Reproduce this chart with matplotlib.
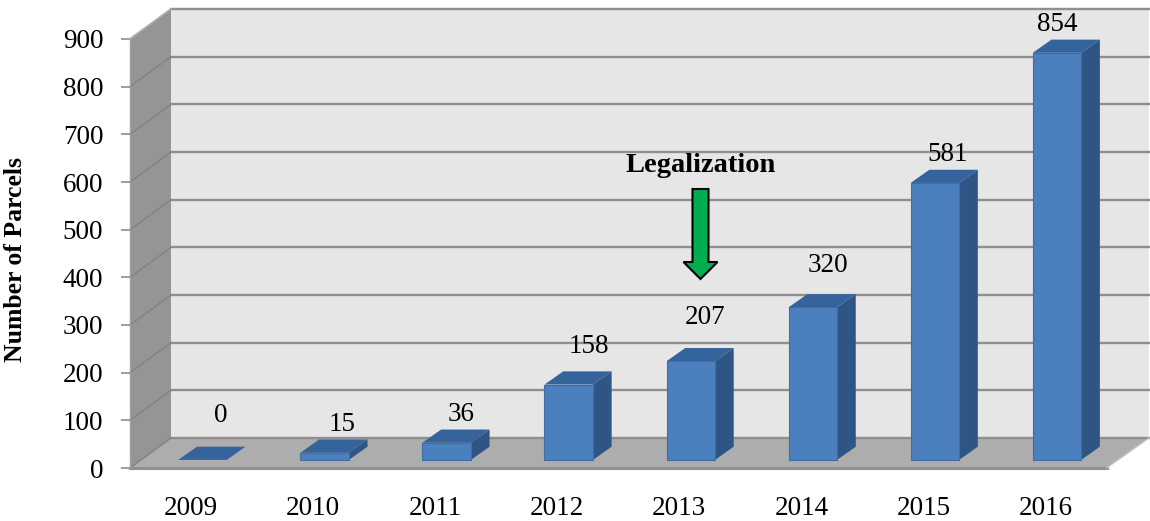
import matplotlib
matplotlib.use('Agg')
import matplotlib.pyplot as plt
from matplotlib.patches import Polygon, FancyArrow

plt.rcParams['font.family'] = ['Liberation Serif', 'DejaVu Serif']

years = ['2009', '2010', '2011', '2012', '2013', '2014', '2015', '2016']
parcels = [0, 15, 36, 158, 207, 320, 581, 854]
y_ticks = [0, 100, 200, 300, 400, 500, 600, 700, 800, 900]

# label offsets from the front top corner centre of each bar (pixels)
label_dx = [18, 18, 14, 20, 14, 15, 13, 0]
label_dy = [44, 28, 28, 38, 44, 42, 28, 28]

# pixel geometry of the fake 3D box
left, right, top, bottom = 130, 1106.5, 39, 468
W, H = 1150, 521
depth_x, depth_y = 42.5, 30
px_x = (right - left) / 8
px_y = (bottom - top) / 900
bar_w = 48.5 / px_x
bar_front, bar_back = 0.27, 0.71


def proj(x, v, d):
    # oblique projection, d=0 front plane, d=1 back wall
    return x + d * depth_x / px_x, v + d * depth_y / px_y


fig = plt.figure(figsize=(W / 100, H / 100), dpi=100)
ax = fig.add_axes([left / W, (H - bottom) / H, (right - left) / W, (bottom - top) / H])
ax.set_xlim(-0.5, 7.5)
ax.set_ylim(0, 900)
ax.patch.set_visible(False)
for s in ax.spines.values():
    s.set_visible(False)


def face(pts, color, z, edge='none', lw=0):
    ax.add_patch(Polygon(pts, closed=True, facecolor=color, edgecolor=edge,
                         linewidth=lw, zorder=z, clip_on=False))


x0, x1 = -0.5, 7.5
back_left = left + 41
back_x0 = x0 + 41 / px_x
# walls and floor
face([(back_x0, proj(x0, 0, 1)[1]), proj(x1, 0, 1), proj(x1, 900, 1), (back_x0, proj(x0, 900, 1)[1])], '#e6e6e6', 1)
face([(x0, 0), (back_x0, proj(x0, 0, 1)[1]), (back_x0, proj(x0, 900, 1)[1]), (x0, 900)], '#959595', 1)
face([proj(x0, 0, 0), proj(x1, 0, 0), proj(x1, 0, 1), (back_x0, proj(x0, 0, 1)[1])], '#adadad', 1)

# gridlines run over the side wall and the back wall
for v in y_ticks:
    v_back = proj(x0, v, 1)[1]
    ax.plot([back_x0, proj(x1, v, 1)[0]], [v_back, v_back],
            color='#8f8f8f', lw=1.7, zorder=2, clip_on=False)
    ax.plot([x0, back_x0], [v, v_back], color='#828282', lw=1,
            zorder=2, clip_on=False)
ax.plot([x0, x1], [0, 0], color='#8f8f8f', lw=2.2, zorder=2, clip_on=False)
ax.plot([x1, proj(x1, 0, 1)[0]], [0, proj(x1, 0, 1)[1]], color='#c4c4c4', lw=1, zorder=2, clip_on=False)
ax.plot([x0, x0], [0, 900], color='#a0a0a0', lw=1, zorder=2, clip_on=False)
ax.plot([x0, back_x0], [900, proj(x0, 900, 1)[1]], color='#b0b0b0', lw=1.2, zorder=2, clip_on=False)

# bars
for i, val in enumerate(parcels):
    a = i - bar_w / 2
    b = i + bar_w / 2
    z = 3 + i * 0.01
    face([proj(a, val, bar_front), proj(b, val, bar_front),
          proj(b, val, bar_back), proj(a, val, bar_back)], '#35649c', z)
    if val > 0:
        face([proj(b, 0, bar_front), proj(b, 0, bar_back),
              proj(b, val, bar_back), proj(b, val, bar_front)], '#2f5585', z)
        face([proj(a, 0, bar_front), proj(b, 0, bar_front),
              proj(b, val, bar_front), proj(a, val, bar_front)], '#4c7fbd', z,
             edge='#3f6ea6', lw=0.8)
    cx, cy = proj(i, val, bar_front)
    ax.annotate(str(val), (cx, cy), xytext=(label_dx[i], label_dy[i]),
                textcoords='offset pixels', ha='center', va='center',
                fontsize=19.5, color='black', zorder=6, annotation_clip=False)

ax.set_xticks(range(len(years)))
ax.set_xticklabels(years)
ax.set_yticks(y_ticks)
ax.tick_params(axis='x', length=0, pad=20, labelsize=19.5)
ax.tick_params(axis='y', length=6.2, width=1.2, color='#8c8c8c', pad=13, labelsize=19.5)
for lab in ax.get_yticklabels():
    lab.set_va('center_baseline')

# axis title placed as figure text so it stays at the left edge
fig.text(16 / W, 1 - 259.5 / H, 'Number of Parcels', fontsize=18.5, fontweight='bold',
         rotation=90, ha='center', va='center')

# legalization marker
fig.text(701 / W, 1 - 165 / H, 'Legalization', fontsize=20.5, fontweight='bold',
         ha='center', va='center', zorder=10)
arrow = FancyArrow(700.5 / W, 1 - 189 / H, 0, -90 / H, width=16 / W, head_width=34 / W,
                   head_length=17 / H, length_includes_head=True, facecolor='#00ae50',
                   edgecolor='black', linewidth=1.5, transform=fig.transFigure, zorder=10)
fig.add_artist(arrow)

fig.savefig('out.png', dpi=100)
